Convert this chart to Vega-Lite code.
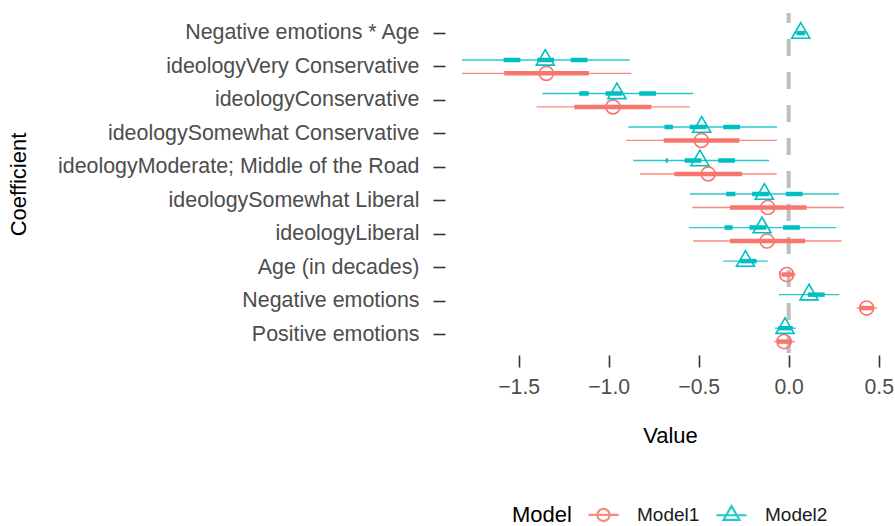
{
  "$schema": "https://vega.github.io/schema/vega-lite/v6.json",
  "width": 450,
  "height": 342,
  "autosize": {"type": "none"},
  "padding": {"left": 445, "top": 13, "right": 0, "bottom": 171},
  "background": "white",
  "config": {
    "view": {"stroke": null},
    "font": "Liberation Sans",
    "axisX": {"domain": false, "grid": false, "tickColor": "#333333", "tickWidth": 1.6, "tickSize": 12, "labelFontSize": 21.2, "labelColor": "#4D4D4D", "labelPadding": 9, "titleFontSize": 22, "titleFontWeight": "normal", "titleColor": "#000000", "titlePadding": 28},
    "axisY": {"domain": false, "grid": false, "tickColor": "#333333", "tickWidth": 1.6, "tickSize": 12, "labelFontSize": 21.4, "labelColor": "#4D4D4D", "labelPadding": 14, "labelLimit": 0, "titleFontSize": 22, "titleFontWeight": "normal", "titleColor": "#000000", "titleX": -415, "titleY": 171, "titleAngle": -90, "titleAlign": "center", "titleBaseline": "bottom"}
  },
  "data": {"values": [
    {"term": "ideologyVery Conservative", "Model": "Model1", "est": -1.346, "lo95": -1.815, "hi95": -0.874, "lo90": -1.58, "hi90": -1.11},
    {"term": "ideologyConservative", "Model": "Model1", "est": -0.976, "lo95": -1.40, "hi95": -0.55, "lo90": -1.19, "hi90": -0.763},
    {"term": "ideologySomewhat Conservative", "Model": "Model1", "est": -0.485, "lo95": -0.902, "hi95": -0.065, "lo90": -0.694, "hi90": -0.274},
    {"term": "ideologyModerate; Middle of the Road", "Model": "Model1", "est": -0.447, "lo95": -0.826, "hi95": -0.067, "lo90": -0.635, "hi90": -0.258},
    {"term": "ideologySomewhat Liberal", "Model": "Model1", "est": -0.116, "lo95": -0.535, "hi95": 0.307, "lo90": -0.326, "hi90": 0.10},
    {"term": "ideologyLiberal", "Model": "Model1", "est": -0.12, "lo95": -0.53, "hi95": 0.294, "lo90": -0.326, "hi90": 0.091},
    {"term": "Age (in decades)", "Model": "Model1", "est": -0.011, "lo95": -0.054, "hi95": 0.04, "lo90": -0.039, "hi90": 0.026},
    {"term": "Negative emotions", "Model": "Model1", "est": 0.433, "lo95": 0.378, "hi95": 0.492, "lo90": 0.396, "hi90": 0.47},
    {"term": "Positive emotions", "Model": "Model1", "est": -0.026, "lo95": -0.082, "hi95": 0.035, "lo90": -0.063, "hi90": 0.017},
    {"term": "Negative emotions * Age", "Model": "Model2", "est": 0.067, "lo95": 0.03, "hi95": 0.105, "lo90": 0.044, "hi90": 0.09},
    {"term": "ideologyVery Conservative", "Model": "Model2", "est": -1.352, "lo95": -1.815, "hi95": -0.883, "lo90": -1.587, "hi90": -1.117},
    {"term": "ideologyConservative", "Model": "Model2", "est": -0.954, "lo95": -1.369, "hi95": -0.53, "lo90": -1.163, "hi90": -0.737},
    {"term": "ideologySomewhat Conservative", "Model": "Model2", "est": -0.483, "lo95": -0.891, "hi95": -0.065, "lo90": -0.69, "hi90": -0.27},
    {"term": "ideologyModerate; Middle of the Road", "Model": "Model2", "est": -0.493, "lo95": -0.863, "hi95": -0.109, "lo90": -0.683, "hi90": -0.298},
    {"term": "ideologySomewhat Liberal", "Model": "Model2", "est": -0.135, "lo95": -0.55, "hi95": 0.28, "lo90": -0.347, "hi90": 0.077},
    {"term": "ideologyLiberal", "Model": "Model2", "est": -0.148, "lo95": -0.554, "hi95": 0.263, "lo90": -0.356, "hi90": 0.062},
    {"term": "Age (in decades)", "Model": "Model2", "est": -0.24, "lo95": -0.363, "hi95": -0.117, "lo90": -0.298, "hi90": -0.178},
    {"term": "Negative emotions", "Model": "Model2", "est": 0.113, "lo95": -0.054, "hi95": 0.281, "lo90": 0.03, "hi90": 0.2},
    {"term": "Positive emotions", "Model": "Model2", "est": -0.02, "lo95": -0.076, "hi95": 0.04, "lo90": -0.058, "hi90": 0.022}
  ]},
  "layer": [
    {
      "data": {"values": [{"zero": 0}]},
      "mark": {"type": "rule", "color": "#BEBEBE", "strokeWidth": 4, "strokeDash": [17, 16], "strokeDashOffset": 7},
      "encoding": {"x": {"field": "zero", "type": "quantitative", "scale": {"domain": [-1.909, 0.5906], "nice": false, "zero": false}, "title": "Value", "axis": {"values": [-1.5, -1, -0.5, 0, 0.5], "format": ".1f"}}}
    },
    {
      "transform": [{"filter": "datum.term !== 'Negative emotions * Age'"}],
      "encoding": {
        "y": {"field": "term", "type": "nominal", "sort": ["Negative emotions * Age", "ideologyVery Conservative", "ideologyConservative", "ideologySomewhat Conservative", "ideologyModerate; Middle of the Road", "ideologySomewhat Liberal", "ideologyLiberal", "Age (in decades)", "Negative emotions", "Positive emotions"], "scale": {"domain": ["Negative emotions * Age", "ideologyVery Conservative", "ideologyConservative", "ideologySomewhat Conservative", "ideologyModerate; Middle of the Road", "ideologySomewhat Liberal", "ideologyLiberal", "Age (in decades)", "Negative emotions", "Positive emotions"], "paddingInner": 0, "paddingOuter": 0.1}, "title": "Coefficient"},
        "yOffset": {"field": "Model", "type": "nominal", "scale": {"domain": ["Model2", "Model1"], "paddingInner": 0, "paddingOuter": 0.25}},
        "color": {"field": "Model", "type": "nominal", "title": "Model", "scale": {"domain": ["Model1", "Model2"], "range": ["#F8766D", "#00BFC4"]},
          "legend": {"orient": "none", "legendX": 67, "legendY": 492, "direction": "horizontal", "titleOrient": "left", "titleFontSize": 22, "titleFontWeight": "normal", "titleColor": "#000000", "titlePadding": 22, "labelFontSize": 19, "labelColor": "#1A1A1A", "symbolSize": 250, "symbolStrokeWidth": 2.2, "symbolFillColor": "transparent", "labelOffset": 24, "columnPadding": 12}}
      },
      "layer": [
        {"mark": {"type": "rule", "strokeWidth": 1.4, "opacity": 0.85},
         "encoding": {"x": {"field": "lo95", "type": "quantitative", "scale": {"domain": [-1.909, 0.5906], "nice": false, "zero": false}, "title": "Value"}, "x2": {"field": "hi95"}}},
        {"transform": [{"filter": "datum.Model === 'Model1'"}],
         "mark": {"type": "rule", "strokeWidth": 4.5},
         "encoding": {"x": {"field": "hi90", "type": "quantitative", "title": "Value"}, "x2": {"field": "lo90"}}},
        {"transform": [{"filter": "datum.Model === 'Model2'"}],
         "mark": {"type": "rule", "strokeWidth": 4.5, "strokeDash": [16.8, 16.8]},
         "encoding": {"x": {"field": "hi90", "type": "quantitative", "title": "Value"}, "x2": {"field": "lo90"}}},
        {"transform": [{"filter": "datum.Model === 'Model1'"}],
         "mark": {"type": "point", "filled": false, "strokeWidth": 1.6, "size": 324, "opacity": 1, "shape": "M-0.78,0A0.78,0.78 0 1,0 0.78,0A0.78,0.78 0 1,0 -0.78,0Z"},
         "encoding": {"x": {"field": "est", "type": "quantitative", "title": "Value"}}},
        {"transform": [{"filter": "datum.Model === 'Model2'"}],
         "mark": {"type": "point", "filled": false, "strokeWidth": 1.6, "size": 324, "opacity": 1, "shape": "M0,-1.155L1,0.577L-1,0.577Z"},
         "encoding": {"x": {"field": "est", "type": "quantitative", "title": "Value"}}},
        {"mark": {"type": "point", "filled": false, "size": 0, "strokeWidth": 0},
         "encoding": {"x": {"field": "est", "type": "quantitative", "title": "Value"},
           "shape": {"field": "Model", "type": "nominal", "title": "Model", "scale": {"domain": ["Model1", "Model2"], "range": ["M-1.9,0L1.9,0M-0.78,0A0.78,0.78 0 1,0 0.78,0A0.78,0.78 0 1,0 -0.78,0Z", "M-1.9,0L1.9,0M0,-1.155L1,0.577L-1,0.577Z"]}}}}
      ]
    },
    {
      "transform": [{"filter": "datum.term === 'Negative emotions * Age'"}],
      "encoding": {
        "y": {"field": "term", "type": "nominal", "sort": ["Negative emotions * Age", "ideologyVery Conservative", "ideologyConservative", "ideologySomewhat Conservative", "ideologyModerate; Middle of the Road", "ideologySomewhat Liberal", "ideologyLiberal", "Age (in decades)", "Negative emotions", "Positive emotions"], "title": "Coefficient"},
        "color": {"field": "Model", "type": "nominal", "title": "Model"}
      },
      "layer": [
        {"mark": {"type": "rule", "strokeWidth": 1.4, "opacity": 0.85},
         "encoding": {"x": {"field": "lo95", "type": "quantitative", "title": "Value"}, "x2": {"field": "hi95"}}},
        {"mark": {"type": "rule", "strokeWidth": 4.5, "strokeDash": [16.8, 16.8]},
         "encoding": {"x": {"field": "hi90", "type": "quantitative", "title": "Value"}, "x2": {"field": "lo90"}}},
        {"mark": {"type": "point", "filled": false, "strokeWidth": 1.6, "size": 324, "opacity": 1, "shape": "M0,-1.155L1,0.577L-1,0.577Z"},
         "encoding": {"x": {"field": "est", "type": "quantitative", "title": "Value"}}}
      ]
    }
  ]
}
